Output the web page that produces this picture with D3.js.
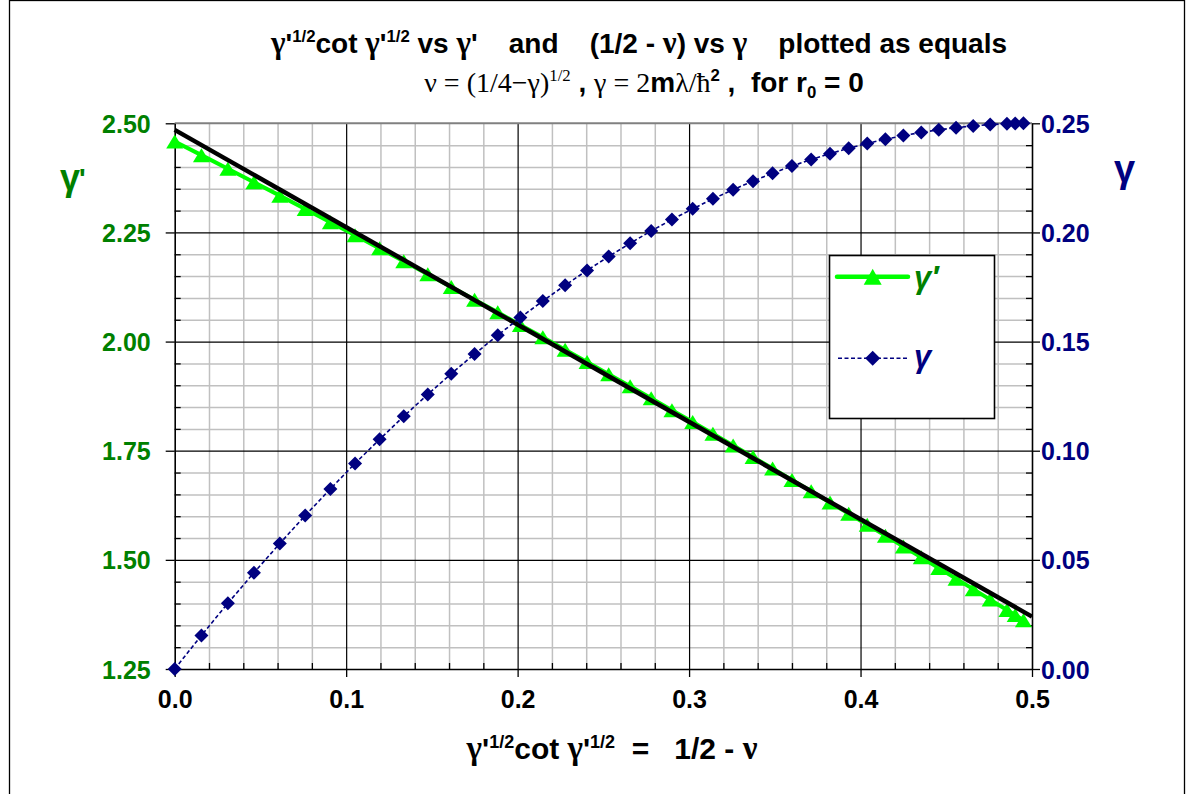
<!DOCTYPE html>
<html><head><meta charset="utf-8">
<script src="https://cdn.jsdelivr.net/npm/d3@7"></script>
<style>
body{margin:0;background:#fff}
text{font-family:"Liberation Sans",Arial,sans-serif;}
</style>
</head><body>
<svg id="c" width="1193" height="794"></svg>
<script>
// ---------------- data ----------------
const xValues = [0, 0.0156, 0.0310, 0.0462, 0.0613, 0.0761, 0.0908, 0.1052, 0.1195, 0.1336,
  0.1476, 0.1613, 0.1749, 0.1884, 0.2016, 0.2147, 0.2277, 0.2405, 0.2531, 0.2656,
  0.2779, 0.2900, 0.3021, 0.3139, 0.3257, 0.3373, 0.3487, 0.3600, 0.3712, 0.3822,
  0.3931, 0.4039, 0.4145, 0.4250, 0.4354, 0.4456, 0.4557, 0.4657, 0.4756, 0.4854,
  0.4902, 0.4950];
const gammaPrime = [2.4584, 2.4271, 2.3960, 2.3651, 2.3343, 2.3038, 2.2735, 2.2434, 2.2135, 2.1838,
  2.1542, 2.1249, 2.0958, 2.0669, 2.0382, 2.0097, 1.9813, 1.9532, 1.9253, 1.8976,
  1.8701, 1.8428, 1.8157, 1.7887, 1.7620, 1.7355, 1.7092, 1.6831, 1.6572, 1.6314,
  1.6059, 1.5806, 1.5555, 1.5306, 1.5059, 1.4813, 1.4570, 1.4329, 1.4090, 1.3853,
  1.3735, 1.3618];
const gammaValues = [0, 0.0154, 0.0301, 0.0441, 0.0575, 0.0703, 0.0825, 0.0942, 0.1052, 0.1158,
  0.1258, 0.1353, 0.1443, 0.1529, 0.1610, 0.1686, 0.1758, 0.1826, 0.1890, 0.1950,
  0.2007, 0.2059, 0.2108, 0.2154, 0.2196, 0.2235, 0.2271, 0.2304, 0.2334, 0.2361,
  0.2386, 0.2408, 0.2427, 0.2444, 0.2458, 0.2470, 0.2480, 0.2488, 0.2494, 0.2498,
  0.2499, 0.2500];
const fitLineX = [0, 0.5];
const fitLineY = [2.485, 1.370];
const xTicks = [0, 0.1, 0.2, 0.3, 0.4, 0.5];
const xMinorTicks = [0.02,0.04,0.06,0.08,0.12,0.14,0.16,0.18,0.22,0.24,0.26,0.28,0.32,0.34,0.36,0.38,0.42,0.44,0.46,0.48];
const leftTicks = [1.25, 1.50, 1.75, 2.00, 2.25, 2.50];
const leftMinorTicks = [1.30,1.35,1.40,1.45,1.55,1.60,1.65,1.70,1.80,1.85,1.90,1.95,2.05,2.10,2.15,2.20,2.30,2.35,2.40,2.45];
const rightTicks = [0, 0.05, 0.10, 0.15, 0.20, 0.25];
const rightMinorTicks = [0.01,0.02,0.03,0.04,0.06,0.07,0.08,0.09,0.11,0.12,0.13,0.14,0.16,0.17,0.18,0.19,0.21,0.22,0.23,0.24];

// ---------------- layout ----------------
const W = 1193, H = 794;
const L = 174.7, R = 1032, T = 123.3, B = 669;
const GREEN = "#008000", LIME = "#00ff00", NAVY = "#000080";
const SERIF = "'Liberation Serif','DejaVu Serif',serif";

const svg = d3.select("#c");
svg.append("rect").attr("x",0).attr("y",0).attr("width",W).attr("height",H).attr("fill","#fff");
svg.append("rect").attr("x",9.5).attr("y",0.5).attr("width",1175).attr("height",800)
  .attr("fill","none").attr("stroke","#000").attr("stroke-width",1.3);

const x = d3.scaleLinear().domain([0,0.5]).range([L,R]);
const yL = d3.scaleLinear().domain([1.25,2.5]).range([B,T]);
const yR = d3.scaleLinear().domain([0,0.25]).range([B,T]);

const g = svg.append("g");
const style = (col,w)=>s=>{s.select(".domain").remove(); s.selectAll("line").attr("stroke",col).attr("stroke-width",w);};
// minor grid
g.append("g").attr("transform",`translate(0,${B})`)
  .call(d3.axisBottom(x).tickValues(xMinorTicks).tickSize(-(B-T)).tickFormat("")).call(style("#c0c0c0",1.5));
g.append("g").attr("transform",`translate(${L},0)`)
  .call(d3.axisLeft(yL).tickValues(leftMinorTicks).tickSize(-(R-L)).tickFormat("")).call(style("#c0c0c0",1.5));
// major grid
g.append("g").attr("transform",`translate(0,${B})`)
  .call(d3.axisBottom(x).tickValues(xTicks.slice(1,-1)).tickSize(-(B-T)).tickFormat("")).call(style("#000",1.2));
g.append("g").attr("transform",`translate(${L},0)`)
  .call(d3.axisLeft(yL).tickValues(leftTicks.slice(1,-1)).tickSize(-(R-L)).tickFormat("")).call(style("#000",1.2));
// top border
g.append("line").attr("x1",L).attr("x2",R).attr("y1",T).attr("y2",T).attr("stroke","#808080").attr("stroke-width",2);

// minor ticks (inward)
g.append("g").attr("transform",`translate(0,${B})`)
  .call(d3.axisBottom(x).tickValues(xMinorTicks).tickSize(-6).tickFormat("")).call(style("#000",1.3));
g.append("g").attr("transform",`translate(${L},0)`)
  .call(d3.axisLeft(yL).tickValues(leftMinorTicks).tickSize(-6).tickFormat("")).call(style("#000",1.3));
g.append("g").attr("transform",`translate(${R},0)`)
  .call(d3.axisRight(yR).tickValues(rightMinorTicks).tickSize(-6).tickFormat("")).call(style("#000",1.3));

// main axes
const axFont = s=>s.selectAll("text").attr("font-family","'Liberation Sans',Arial,sans-serif")
  .attr("font-weight","bold").attr("font-size",25);
const axLine = s=>{s.select(".domain").attr("stroke","#000").attr("stroke-width",1.6); s.selectAll(".tick line").attr("stroke","#000").attr("stroke-width",1.3);};
g.append("g").attr("transform",`translate(0,${B})`)
  .call(d3.axisBottom(x).tickValues(xTicks).tickFormat(d3.format(".1f")).tickSize(8).tickPadding(13).tickSizeOuter(0))
  .call(axFont).call(axLine).call(s=>s.selectAll("text").attr("fill","#000"));
g.append("g").attr("transform",`translate(${L},0)`)
  .call(d3.axisLeft(yL).tickValues(leftTicks).tickFormat(d3.format(".2f")).tickSize(9).tickPadding(15).tickSizeOuter(0))
  .call(axFont).call(axLine).call(s=>s.selectAll("text").attr("fill",GREEN).attr("dy","0.36em"));
g.append("g").attr("transform",`translate(${R},0)`)
  .call(d3.axisRight(yR).tickValues(rightTicks).tickFormat(d3.format(".2f")).tickSize(8).tickPadding(1).tickSizeOuter(0))
  .call(axFont).call(axLine).call(s=>s.selectAll("text").attr("fill",NAVY).attr("dy","0.36em"));

// ---------------- series ----------------
const gpData = xValues.map((v,i)=>[v, gammaPrime[i]]);
const gData = xValues.map((v,i)=>[v, gammaValues[i]]);
const triPath = (w,h)=>`M0,${-h/2}L${w/2},${h/2}L${-w/2},${h/2}Z`;
const diaPath = r=>`M0,${-r}L${r},0L0,${r}L${-r},0Z`;

const plot = svg.append("g");
plot.append("path").datum(gpData)
  .attr("d", d3.line().x(d=>x(d[0])).y(d=>yL(d[1])))
  .attr("fill","none").attr("stroke",LIME).attr("stroke-width",4);
plot.selectAll("path.tri").data(gpData).join("path").attr("class","tri")
  .attr("d", triPath(17,14)).attr("transform",d=>`translate(${x(d[0])},${yL(d[1])})`)
  .attr("fill",LIME);
plot.append("path").datum(fitLineX.map((v,i)=>[v,fitLineY[i]]))
  .attr("d", d3.line().x(d=>x(d[0])).y(d=>yL(d[1])))
  .attr("fill","none").attr("stroke","#000").attr("stroke-width",4.5);
plot.append("path").datum(gData)
  .attr("d", d3.line().x(d=>x(d[0])).y(d=>yR(d[1])))
  .attr("fill","none").attr("stroke",NAVY).attr("stroke-width",1.6).attr("stroke-dasharray","4,2.5");
plot.selectAll("path.dia").data(gData).join("path").attr("class","dia")
  .attr("d", diaPath(7)).attr("transform",d=>`translate(${x(d[0])},${yR(d[1])})`)
  .attr("fill",NAVY);

// ---------------- legend ----------------
const lg = svg.append("g");
lg.append("rect").attr("x",829.5).attr("y",255.5).attr("width",165).attr("height",163)
  .attr("fill","#fff").attr("stroke","#000").attr("stroke-width",1.6);
lg.append("line").attr("x1",837).attr("x2",908).attr("y1",276.7).attr("y2",276.7).attr("stroke",LIME).attr("stroke-width",4.5).attr("stroke-linecap","round");
lg.append("path").attr("d",triPath(18,16)).attr("transform","translate(872.7,276.7)").attr("fill",LIME);
lg.append("text").attr("x",914).attr("y",288).attr("font-family",SERIF).attr("font-weight","bold").attr("font-style","italic").attr("font-size",31).attr("fill",GREEN).text("γ′");
lg.append("line").attr("x1",838).attr("x2",907).attr("y1",358.3).attr("y2",358.3).attr("stroke",NAVY).attr("stroke-width",1.6).attr("stroke-dasharray","4,2.5");
lg.append("path").attr("d",diaPath(7.5)).attr("transform","translate(872.7,358.3)").attr("fill",NAVY);
lg.append("text").attr("x",914).attr("y",367).attr("font-family",SERIF).attr("font-weight","bold").attr("font-style","italic").attr("font-size",31).attr("fill",NAVY).text("γ");

// ---------------- rich text helper ----------------
function rich(x0, y0, parts, size, anchor){
  const t = svg.append("text").attr("x",x0).attr("y",y0).attr("text-anchor",anchor||"middle")
    .attr("font-size",size).attr("font-weight","bold").attr("fill","#000").style("white-space","pre");
  parts.forEach(p=>{
    const ts = t.append("tspan").text(p.t);
    if(p.serif){ ts.attr("font-family",SERIF).attr("font-weight",p.bold?"bold":"normal"); }
    if(p.sup){ ts.attr("font-size",size*0.6).attr("dy",-size*0.38); }
    if(p.sub){ ts.attr("font-size",size*0.6).attr("dy",size*0.2); }
    if(p.back){ ts.attr("dy",p.back); }
    if(p.fs){ ts.attr("font-size",p.fs); }
  });
  return t;
}
const S1 = 28;
rich(639, 53, [
  {t:"γ",serif:true,bold:true,fs:31},{t:"'"},{t:"1/2",sup:true},{t:"cot",back:S1*0.38},{t:" γ",serif:true,bold:true,fs:31},{t:"'"},{t:"1/2",sup:true},
  {t:" vs ",back:S1*0.38},{t:"γ",serif:true,bold:true,fs:31},{t:"'    and    (1/2 - "},{t:"ν",serif:true,bold:true,fs:31},{t:") vs "},{t:"γ",serif:true,bold:true,fs:31},{t:"    plotted as equals"}
], S1);
const S2 = 28;
rich(644, 92, [
  {t:"ν = (1/4−γ)",serif:true},{t:"1/2",sup:true,serif:true},{t:" , ",back:S2*0.38},{t:"γ = 2",serif:true},{t:"m"},{t:"λ/ħ",serif:true},{t:"2",sup:true},
  {t:" ,  for r",back:S2*0.38},{t:"0",sub:true},{t:" = 0",back:-S2*0.2}
], S2);
const S3 = 30;
rich(612, 759, [
  {t:"γ",serif:true,bold:true,fs:33},{t:"'"},{t:"1/2",sup:true},{t:"cot",back:S3*0.38},{t:" γ",serif:true,bold:true,fs:33},{t:"'"},{t:"1/2",sup:true},
  {t:"  =   1/2 - ",back:S3*0.38},{t:"ν",serif:true,bold:true,fs:33}
], S3);
// axis titles
svg.append("text").attr("x",60).attr("y",190).attr("font-family",SERIF).attr("font-weight","bold").attr("font-size",36).attr("fill",GREEN).text("γ");
svg.append("text").attr("x",79).attr("y",188).attr("font-size",28).attr("font-weight","bold").attr("fill",GREEN).text("'");
svg.append("text").attr("x",1114).attr("y",182).attr("font-family",SERIF).attr("font-weight","bold").attr("font-size",38).attr("fill",NAVY).text("γ");
</script>
</body></html>
